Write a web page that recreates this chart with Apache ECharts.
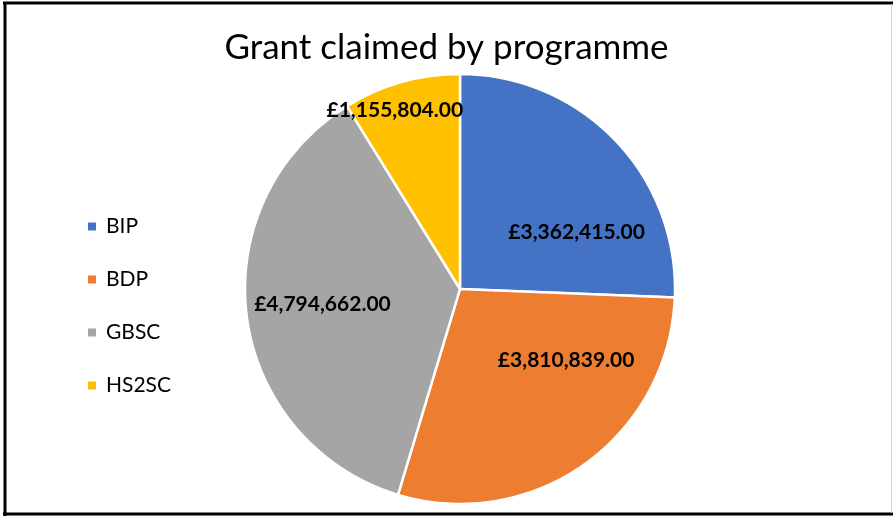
<!DOCTYPE html>
<html>
<head>
<meta charset="utf-8">
<title>Grant claimed by programme</title>
<script src="https://cdn.jsdelivr.net/npm/echarts@6/dist/echarts.min.js"></script>
<style>
  html, body { margin: 0; padding: 0; background: #fff; }
  #chart { width: 893px; height: 516px; }
</style>
</head>
<body>
<div id="chart"></div>
<script>
// Programmes and the grant claimed by each (GBP)
const programmes = ['BIP', 'BDP', 'GBSC', 'HS2SC'];
const grantClaimed = [3362415, 3810839, 4794662, 1155804];
const sliceColours = ['#4472C4', '#ED7D31', '#A5A5A5', '#FFC000'];

// Nudges that move each value label from the mid-radius point of its slice
const labelNudges = [[37, 20], [42, -19], [-28, 1], [-35, -72]];

function formatPounds(v) {
  const parts = v.toFixed(2).split('.');
  parts[0] = parts[0].replace(/\B(?=(\d{3})+(?!\d))/g, ',');
  return '\u00A3' + parts.join('.');
}

const chart = echarts.init(document.getElementById('chart'), null, { renderer: 'canvas' });

const pieData = programmes.map((name, i) => ({
  name: name,
  value: grantClaimed[i],
  itemStyle: { color: sliceColours[i] },
  label: { offset: labelNudges[i] }
}));

chart.setOption({
  animation: false,
  backgroundColor: '#ffffff',
  title: {
    text: 'Grant claimed by programme',
    left: 'center',
    top: 25,
    textStyle: {
      fontFamily: 'Lato',
      fontSize: 35,
      fontWeight: 'normal',
      color: '#000000'
    }
  },
  legend: {
    orient: 'vertical',
    left: 86,
    top: 216,
    padding: 0,
    itemWidth: 10,
    itemHeight: 10,
    itemGap: 32,
    icon: 'rect',
    textStyle: {
      fontFamily: 'Lato',
      fontSize: 21,
      lineHeight: 20,
      color: '#000000',
      padding: [0, 0, 0, 4]
    },
    data: programmes
  },
  series: [{
    type: 'pie',
    center: [460, 289],
    radius: [0, 215],
    startAngle: 90,
    clockwise: true,
    avoidLabelOverlap: false,
    itemStyle: { borderColor: '#ffffff', borderWidth: 2.5 },
    label: {
      show: true,
      position: 'inside',
      formatter: p => formatPounds(p.value),
      fontFamily: 'Lato',
      fontWeight: 'bold',
      fontSize: 21,
      color: '#000000'
    },
    labelLine: { show: false },
    emphasis: { disabled: true },
    data: pieData
  }],
  graphic: [
    { type: 'line', shape: { x1: 3, y1: 3, x2: 893, y2: 3 }, style: { stroke: '#000', lineWidth: 3 } },
    { type: 'line', shape: { x1: 5, y1: 2, x2: 5, y2: 516 }, style: { stroke: '#000', lineWidth: 3 } },
    { type: 'line', shape: { x1: 3, y1: 514, x2: 893, y2: 514 }, style: { stroke: '#000', lineWidth: 3 } },
    { type: 'line', shape: { x1: 891.5, y1: 4, x2: 891.5, y2: 513 }, style: { stroke: '#d4d4d4', lineWidth: 1 } }
  ]
});
</script>
</body>
</html>
